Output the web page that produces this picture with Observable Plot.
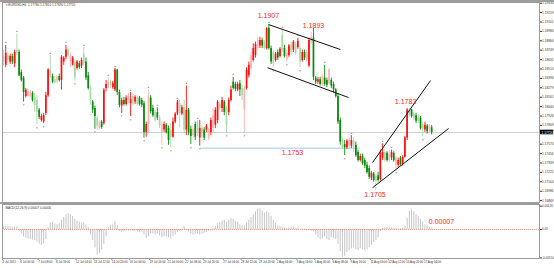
<!DOCTYPE html>
<html><head><meta charset="utf-8">
<script src="https://cdn.jsdelivr.net/npm/d3@7"></script>
<script src="https://cdn.jsdelivr.net/npm/@observablehq/plot@0.6"></script>
<style>
html,body{margin:0;padding:0;background:#fff;}
#chart{position:relative;width:554px;height:268px;overflow:hidden;background:#fff;}
#chart svg{position:absolute;left:0;}
.bar{position:absolute;left:0;width:554px;background:#9e9e9e;}
</style></head><body><div id="chart"></div>
<script>
// ---- data (EURUSD H4, prices in pips above 1.1700) ----
const BASE = 1.17;
const opens = [160,156,168,160,167,158,175,172,147,140, 117,118,117,121,115,112,100,87,85,96, 118,150,142,138,136,142,137,160,166,175, 160,156,160,152,158,155,170,160,143,127, 110,102,90,77,85,83,127,130,135,128, 125,150,122,105,112,107,112,108,117,110, 116,115,112,108,72,82,115,102,97,97, 90,71,75,81,77,75,66,85,95,108, 95,103,75,100,76,68,82,85,65,77, 75,75,65,72,77,81,87,107,102,110, 102,97,112,135,132,125,133,127,100,127, 143,152,162,168,177,180,187,185,177,202, 177,172,162,172,167,193,177,163,168,181, 175,182,178,177,162,172,162,155,185,190, 140,135,138,132,140,137,133,137,132,125, 117,87,62,57,53,55,55,62,56,47, 37,42,37,31,27,15,20,17,18,13, 40,47,46,37,40,46,31,31,40,32, 41,65,100,100,95,93,91,90,82,75, 80,75,78];
const highs = [175,181,172,170,170,175,195,175,150,142, 127,126,125,123,121,118,102,95,96,122, 152,168,145,142,143,145,168,167,181,178, 171,167,162,162,161,165,178,165,147,130, 112,105,93,87,87,127,137,140,137,136, 152,151,125,115,116,118,121,122,120,118, 118,117,115,111,85,125,118,106,100,103, 93,85,85,83,80,83,90,97,112,112, 106,112,130,102,80,80,85,87,87,80, 78,82,77,90,102,103,112,110,116,112, 105,115,130,141,135,135,137,131,130,153, 160,172,183,185,191,191,190,187,203,206, 180,175,172,175,178,200,181,175,182,185, 187,185,190,180,175,175,175,190,197,202, 142,141,141,145,156,140,152,140,135,127, 120,90,65,62,63,65,68,65,60,50, 45,45,40,35,30,23,22,20,22,50, 58,50,48,50,50,48,42,40,42,43, 67,102,102,101,97,96,94,92,85,85, 82,82,81];
const lows = [155,153,158,157,157,153,168,142,135,110, 115,116,115,110,97,82,88,85,83,93, 116,140,133,133,133,135,125,156,163,166, 153,155,136,150,151,152,155,137,125,106, 96,76,75,75,76,81,123,127,127,126, 123,118,103,96,105,105,108,92,105,107, 105,105,103,65,66,70,95,91,85,87, 77,56,72,70,56,53,65,83,93,78, 93,70,68,68,57,65,62,67,55,65, 62,72,62,68,72,77,83,100,97,93, 72,93,110,125,123,123,117,112,72,125, 140,150,160,165,175,177,177,175,175,175, 157,153,160,162,165,172,165,160,166,168, 172,168,176,153,160,162,160,153,182,137, 132,132,130,130,130,128,131,127,121,115, 82,56,51,43,51,52,52,47,41,35, 35,31,27,20,13,12,10,6,10,11, 37,35,35,35,37,35,25,28,30,30, 40,62,91,90,87,83,83,75,67,72, 70,72,69];
const closes = [167,171,162,167,160,172,171,143,137,122, 125,123,122,112,106,97,91,92,93,118, 150,142,135,134,141,137,166,165,175,168, 168,165,140,160,153,162,158,140,127,112, 100,92,80,85,78,125,132,135,130,133, 150,122,106,112,107,115,117,113,108,116, 107,107,106,72,82,118,98,93,87,90, 80,82,82,72,62,66,85,95,110,95, 103,75,100,72,67,75,66,72,77,70, 65,80,75,87,93,100,110,102,112,97, 81,112,125,127,126,132,125,118,127,150, 156,168,177,182,187,187,180,177,202,177, 160,158,170,165,176,175,167,171,180,172, 185,171,186,160,172,165,172,187,191,141, 135,138,132,142,132,131,150,130,125,117, 85,60,53,53,61,62,62,53,43,37, 42,33,30,22,16,21,12,11,12,46, 47,37,37,45,47,37,40,37,32,41, 65,100,93,92,90,86,86,77,75,81, 73,80,72];
const paleBars = [0,2,6,11,12,14,15,21,23,24,29,30,32,36,39,42,43,47,48,56,58,60,65,68,70,71,75,79,81,85,87,89,92,94,97,100,107,108,111,114,117,121,125,127,129,131,133,136,138,143,146,152,155,157,167,171,173,176,182,184,186,188,191];
const fractalUp = [1,6,21,28,36,47,50,57,65,69,78,82,87,103,119,125,132,144,156,170,174];
const fractalDown = [9,15,18,32,41,53,57,63,71,75,84,88,100,108,121,127,133,153,167,176,188];
// MACD histogram, in 0.00001 units
const macdHist = [14,16,18,15,12,14,15,-10,-25,-40, -48,-52,-55,-58,-60,-68,-80,-87,-80,-55, 10,35,40,30,25,30,50,65,80,85, 80,70,55,45,40,30,35,25,10,-30, -60,-100,-138,-130,-110,-80,-40,10,20,25, 42,20,-10,-15,-12,-8,-10,-8,-12,-10, -15,-18,-15,-30,-48,-40,-25,-25,-30,-25, -35,-45,-40,-40,-45,-50,-40,-30,-15,-10, -8,15,-5,-15,-25,-30,-28,-25,-30,-25, -20,-15,-10,-3,5,15,30,35,45,50, 40,50,60,55,45,40,25,20,20,35, 50,65,80,95,110,112,100,90,95,90, 70,50,35,20,15,12,8,5,8,10, 12,6,8,3,2,-5,-8,-6,-10,-12, -30,-45,-55,-50,-40,-55,-60,-45,-50,-55, -80,-120,-150,-145,-125,-115,-105,-100,-110,-115, -105,-110,-115,-110,-100,-85,-70,-60,-45,-10, 5,8,10,12,8,6,5,4,3,6, 15,60,100,105,95,80,70,55,40,25, 20,12,7];
const priceTicks = [1.19336,1.19219,1.19101,1.18984,1.18866,1.18749,1.18631,1.18514,1.18396,1.18279,1.18161,1.18044,1.17926,1.17809,1.17574,1.17456,1.17339,1.17221,1.17104,1.16986,1.16869];
const macdTicks = [0.00126, 0, -0.00154];
const timeTickBars = [0,8,16,24,33,41,49,57,66,74,82,90,99,107,115,123,132,140,148,156,165,173,181,189];
const timeLabels = ["2 Jul 2021","6 Jul 00:00","7 Jul 08:00","8 Jul 16:00","12 Jul 04:00","13 Jul 12:00","14 Jul 20:00","16 Jul 04:00","19 Jul 16:00","21 Jul 00:00","22 Jul 08:00","23 Jul 16:00","27 Jul 04:00","28 Jul 12:00","29 Jul 20:00","2 Aug 04:00","3 Aug 16:00","5 Aug 00:00","6 Aug 08:00","9 Aug 16:00","11 Aug 04:00","12 Aug 12:00","13 Aug 20:00","17 Aug 04:00"];
// drawn objects (bar index, price)
const trendLines = [
  {x1:118.8, y1:1.19070, x2:151.1, y2:1.187575},
  {x1:118.4, y1:1.18530, x2:154.7, y2:1.181575},
  {x1:165.5, y1:1.17345, x2:191.5, y2:1.18370},
  {x1:165.5, y1:1.17030, x2:199.6, y2:1.17770}
];
const levelLines = [{price:1.17524, from:88.3, to:160}];
const noteText = ["1.1907","1.1893","1.1783","1.1753","1.1705"];
const noteBar = [118.8, 139, 180.3, 129.6, 166.6];
const notePrice = [1.19176, 1.19051, 1.18108, 1.17464, 1.16939];
const macdNote = {text:"0.00007", bar:196.4, value:0.00043};

// ---- build ----
const paleSet = new Set(paleBars);
const bars = opens.map((o,i)=>({i, open:BASE+o/1e4, high:BASE+highs[i]/1e4, low:BASE+lows[i]/1e4, close:BASE+closes[i]/1e4, pale:paleSet.has(i)}));
const col = d => d.close >= d.open ? (d.pale ? "#ffb3b3" : "#ff1010") : (d.pale ? "#a9d9a9" : "#0a8a0a");
const lastBar = bars[bars.length-1];
const f5 = d => d.toFixed(5);
const XD = [-0.4484, 240.359];
const FONT = "'Liberation Sans', Arial, sans-serif";
const RED = "#ff1f1f";
const notes = noteText.map((t,i)=>({t, x:noteBar[i], y:notePrice[i]}));

const mainPlot = Plot.plot({
  width:554, height:202, marginTop:2, marginBottom:0, marginLeft:2, marginRight:15,
  style:{fontFamily:FONT, background:"transparent", overflow:"visible"},
  x:{domain:XD, axis:null},
  y:{domain:[1.16845,1.19345]},
  color:{type:"identity"},
  marks:[
    Plot.ruleY([lastBar.close], {stroke:"#d2d2d2", strokeWidth:1}),
    Plot.ruleY(levelLines, {y:"price", x1:"from", x2:"to", stroke:"#9fc9ee", strokeWidth:1}),
    Plot.ruleX(bars, {x:"i", y1:"low", y2:"high", stroke:col, strokeWidth:0.9}),
    Plot.ruleX(bars, {x:"i", y1:"open", y2:"close", stroke:col, strokeWidth:1.7}),
    Plot.text(fractalUp.map(i=>bars[i]), {x:"i", y:"high", text:()=>"▲", dy:-3, fontSize:3.2, fill:"#a0a0a0"}),
    Plot.text(fractalDown.map(i=>bars[i]), {x:"i", y:"low", text:()=>"▼", dy:3, fontSize:3.2, fill:"#a0a0a0"}),
    Plot.link(trendLines, {x1:"x1", y1:"y1", x2:"x2", y2:"y2", stroke:"#111", strokeWidth:1}),
    Plot.text(notes, {x:"x", y:"y", text:"t", fill:RED, fontSize:7, lineAnchor:"middle"}),
    Plot.axisY({anchor:"right", ticks:priceTicks, tickFormat:f5, tickSize:2, tickPadding:0.5, fontSize:3.2, color:"#333"}),
    Plot.rect([lastBar], {x1:XD[1], x2:XD[1]+6.4, y1:d=>d.close-0.00029, y2:d=>d.close+0.00029, fill:"#000"}),
    Plot.text([lastBar], {x:XD[1], y:"close", text:d=>f5(d.close), dx:2, textAnchor:"start", fontSize:3.2, fill:"#fff"}),
    Plot.text([lastBar], {frameAnchor:"top-left", dx:3, dy:1, lineAnchor:"top", textAnchor:"start", fontSize:3.1, fill:"#333",
      text:d=>"▾ EURUSD,H4  "+[d.open,d.high,d.low,d.close].map(f5).join(" ")}),
    Plot.frame({stroke:"#9a9a9a"})
  ]
});
mainPlot.style.top = "0px";

const hist = macdHist.map((v,i)=>({i, v:v/1e5}));
const labelMap = new Map(timeTickBars.map((b,i)=>[b, timeLabels[i]]));
const oscPlot = Plot.plot({
  width:554, height:64, marginTop:0, marginBottom:10, marginLeft:2, marginRight:15,
  style:{fontFamily:FONT, background:"transparent", overflow:"visible"},
  x:{domain:XD},
  y:{domain:[-0.00157,0.00135]},
  marks:[
    Plot.ruleX(hist, {x:"i", y1:0, y2:"v", stroke:"#c6c6c6", strokeWidth:1}),
    Plot.ruleY([0], {stroke:"#ff7a7a", strokeDasharray:"1,1", strokeWidth:0.8}),
    Plot.text([macdNote], {x:"bar", y:"value", text:"text", fill:RED, fontSize:7, lineAnchor:"middle"}),
    Plot.text([hist[hist.length-1]], {frameAnchor:"top-left", dx:3, dy:2, lineAnchor:"top", textAnchor:"start", fontSize:3.1, fill:"#333",
      text:d=>"MACD(12,26,9) "+f5(d.v)+" 0.00000"}),
    Plot.axisY({anchor:"right", ticks:macdTicks, tickFormat:d=>d===0?"0.00":f5(d), tickSize:2, tickPadding:0.5, fontSize:3, color:"#333"}),
    Plot.axisX({anchor:"bottom", ticks:timeTickBars, tickFormat:d=>labelMap.get(d), tickSize:1.5, tickPadding:0.8, fontSize:2.9, textAnchor:"start", dx:-1, color:"#333"}),
    Plot.frame({stroke:"#9a9a9a"})
  ]
});
oscPlot.style.top = "204px";

const chartEl = document.getElementById("chart");
chartEl.appendChild(mainPlot);
chartEl.appendChild(oscPlot);
const topBar = document.createElement("div"); topBar.className="bar"; topBar.style.top="0px"; topBar.style.height="2px";
const sepBar = document.createElement("div"); sepBar.className="bar"; sepBar.style.top="202px"; sepBar.style.height="2px"; sepBar.style.width="539px";
chartEl.appendChild(topBar); chartEl.appendChild(sepBar);
</script></body></html>
